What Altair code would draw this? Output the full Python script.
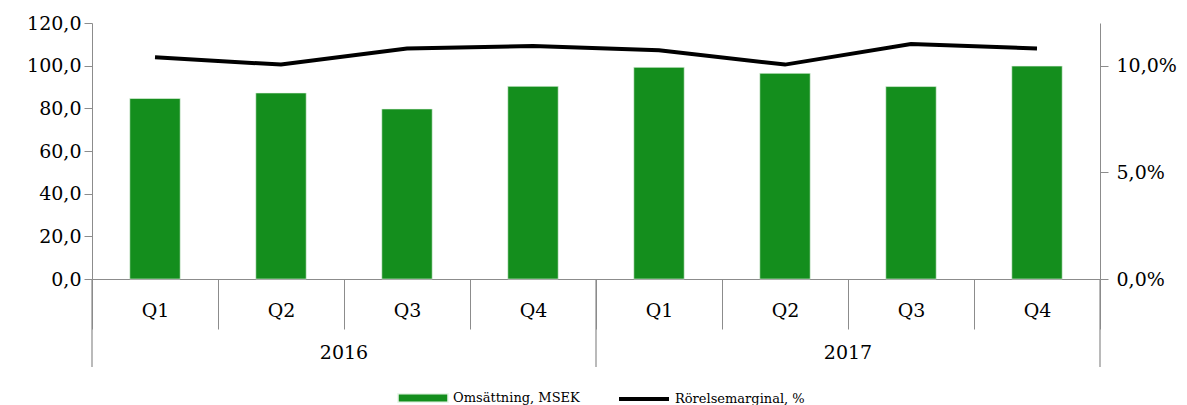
import altair as alt
import pandas as pd

quarters = ["Q1", "Q2", "Q3", "Q4", "Q1", "Q2", "Q3", "Q4"]
years = ["2016", "2016", "2016", "2016", "2017", "2017", "2017", "2017"]
revenue = [84.6, 87.2, 79.7, 90.3, 99.2, 96.4, 90.2, 99.8]
margin = [10.39, 10.05, 10.80, 10.92, 10.72, 10.05, 11.01, 10.81]
year_labels = ["2016", "2017"]
left_ticks = [0, 20, 40, 60, 80, 100, 120]
right_ticks = [0, 5, 10]

keys = [f"{y} {q}" for y, q in zip(years, quarters)]
df = pd.DataFrame({"key": keys, "revenue": revenue, "margin": margin,
                   "s1": "Omsättning, MSEK", "s2": "Rörelsemarginal, %"})

FONT = "DejaVu Serif"
GREEN = "#148E1D"
GRAY = "#8c8c8c"
H = 256
W = 1008

xscale = alt.Scale(domain=keys, paddingInner=0, paddingOuter=0)
xenc = alt.X("key:O", scale=xscale, sort=keys, title=None,
             axis=alt.Axis(labelExpr="split(datum.label, ' ')[1]", labelAngle=0,
                           tickBand="extent", tickSize=50, tickColor=GRAY,
                           domainColor=GRAY, labelPadding=-19, labelBaseline="middle",
                           labelFont=FONT, labelFontSize=19, labelColor="#000"))

bars = alt.Chart(df).mark_bar(width=alt.RelativeBandSize(0.4), stroke="#e8f5e8", strokeWidth=0.6).encode(
    x=xenc,
    y=alt.Y("revenue:Q", scale=alt.Scale(domain=[0, 120]), title=None,
            axis=alt.Axis(values=left_ticks, grid=False, orient="left",
                          labelExpr="replace(format(datum.value, '.1f'), '.', ',')",
                          tickSize=8, tickColor=GRAY, domainColor=GRAY,
                          labelFont=FONT, labelFontSize=19, labelColor="#000", labelPadding=3)),
    color=alt.Color("s1:N", scale=alt.Scale(range=[GREEN]),
                    legend=alt.Legend(title=None, orient="none", legendX=305, legendY=349,
                                      symbolType="M-1,-0.17H1V0.17H-1Z", symbolSize=2500,
                                      labelFont=FONT, labelFontSize=13, labelColor="#000",
                                      padding=0, labelOffset=4))
)

line = alt.Chart(df).mark_line(strokeWidth=4, color="black").encode(
    x=alt.X("key:O", scale=xscale, sort=keys),
    y=alt.Y("margin:Q", scale=alt.Scale(domain=[0, 12]), title=None,
            axis=alt.Axis(values=right_ticks, grid=False, orient="right",
                          labelExpr="replace(format(datum.value, '.1f'), '.', ',') + '%'",
                          tickSize=8, tickColor=GRAY, domainColor=GRAY,
                          labelFont=FONT, labelFontSize=19, labelColor="#000", labelPadding=8)),
    color=alt.Color("s2:N", scale=alt.Scale(range=["black"]),
                    legend=alt.Legend(title=None, orient="none", legendX=525, legendY=349,
                                      symbolType="stroke", symbolSize=2500, symbolStrokeWidth=4,
                                      labelFont=FONT, labelFontSize=13, labelColor="#000",
                                      padding=0, labelOffset=4))
)

ydf = pd.DataFrame({"year": year_labels, "start": [keys[0], keys[4]], "center": [keys[1], keys[5]]})

year_start = alt.Chart(ydf).mark_rule(color=GRAY, strokeWidth=1.2).encode(
    x=alt.X("start:O", scale=xscale, sort=keys, bandPosition=0),
    y=alt.value(H), y2=alt.value(H + 88))
year_end = alt.Chart(pd.DataFrame({"end": [keys[-1]]})).mark_rule(color=GRAY, strokeWidth=1.2).encode(
    x=alt.X("end:O", scale=xscale, sort=keys, bandPosition=1),
    y=alt.value(H), y2=alt.value(H + 88))
year_text = alt.Chart(ydf).mark_text(font=FONT, fontSize=19, color="#000", baseline="middle").encode(
    x=alt.X("center:O", scale=xscale, sort=keys, bandPosition=1),
    y=alt.value(H + 74), text="year:N")

chart = alt.layer(bars, line, year_start, year_end, year_text).resolve_scale(
    y="independent", color="independent"
).properties(
    width=W, height=H,
    autosize=alt.AutoSizeParams(type="none"),
    padding={"left": 84, "top": 15, "right": 78, "bottom": 126},
).configure_view(stroke=None)

chart.save("out.html", embed_options={"renderer": "svg", "actions": False})
